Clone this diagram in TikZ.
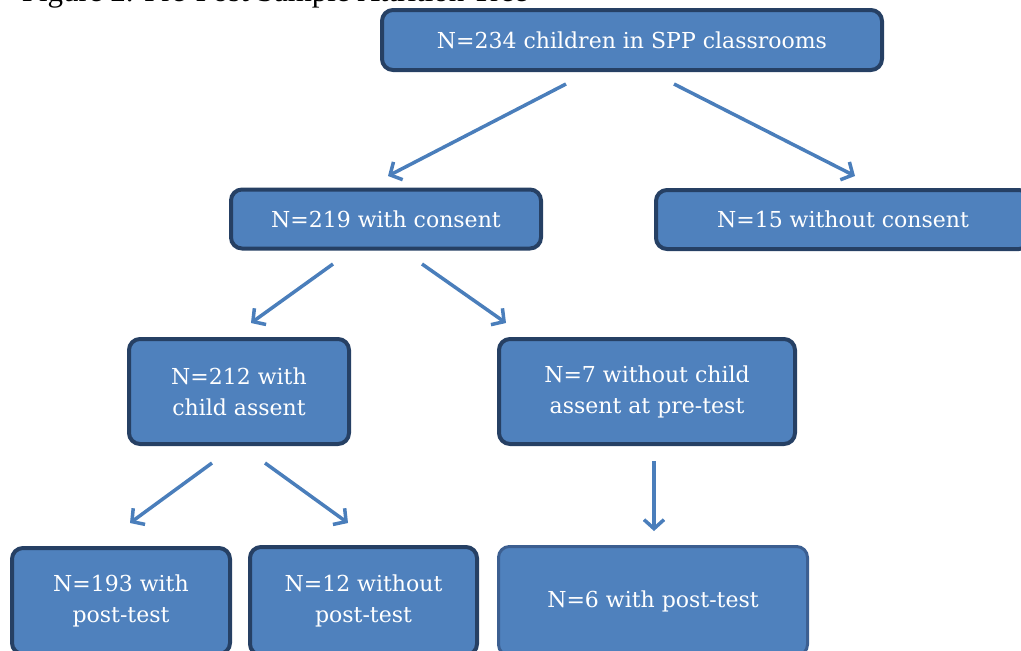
\documentclass[tikz,border=0pt]{standalone}
\usepackage{fontspec}
\setmainfont{Liberation Serif}
\newfontfamily\boxfont{DejaVu Serif}
\usetikzlibrary{arrows.meta}
\definecolor{boxfill}{RGB}{79,129,189}
\definecolor{boxline}{RGB}{38,64,100}
\definecolor{boxlinelight}{RGB}{60,95,145}
\definecolor{arrowcol}{RGB}{74,126,187}
\tikzset{
  treebox/.style={draw=boxline, line width=4pt, fill=boxfill, rounded corners=11pt,
    text=white, align=center, font=\boxfont\fontsize{22}{31}\selectfont, inner sep=0pt},
  treearrow/.style={draw=arrowcol, line width=3.5pt,
    -{Straight Barb[length=9pt,width=20pt,line width=3.5pt]}}
}
\begin{document}
\begin{tikzpicture}[x=1pt,y=-1pt]
\useasboundingbox (0,0) rectangle (1021,651);
\clip (0,0) rectangle (1021,651);
\node[anchor=base east, font=\fontsize{31}{34}\selectfont, inner sep=0pt] (title) at (528,1.5) {Figure 2. Pre-Post Sample Attrition Tree};
\node[treebox, minimum width=500pt, minimum height=60pt] (n234) at (632,40) {N=234 children in SPP classrooms};
\node[treebox, minimum width=310pt, minimum height=59pt] (n219) at (386,219) {N=219 with consent};
\node[treebox, minimum width=374pt, minimum height=59pt] (n15) at (843,219.5) {N=15 without consent};
\node[treebox, minimum width=220pt, minimum height=105pt] (n212) at (239,391.5) {N=212 with\\child assent};
\node[treebox, minimum width=296pt, minimum height=105pt] (n7) at (647,391.5) {N=7 without child\\assent at pre-test};
\node[treebox, minimum width=218pt, minimum height=106pt] (n193) at (121,601) {N=193 with\\post-test};
\node[treebox, minimum width=227pt, minimum height=108pt] (n12) at (363.5,601) {N=12 without\\post-test};
\node[treebox, draw=boxlinelight, line width=3pt, minimum width=309pt, minimum height=109pt] (n6) at (653,601) {N=6 with post-test};
\coordinate (a1s) at (566,84); \coordinate (a1e) at (388,176);
\coordinate (a2s) at (674,84); \coordinate (a2e) at (855,176);
\coordinate (a3s) at (333,264); \coordinate (a3e) at (251,323);
\coordinate (a4s) at (422,264); \coordinate (a4e) at (506,323);
\coordinate (a5s) at (212,463); \coordinate (a5e) at (130,523);
\coordinate (a6s) at (265,463); \coordinate (a6e) at (348,523);
\coordinate (a7s) at (654,461); \coordinate (a7e) at (654,531);
\draw[treearrow] (a1s) -- (a1e);
\draw[treearrow] (a2s) -- (a2e);
\draw[treearrow] (a3s) -- (a3e);
\draw[treearrow] (a4s) -- (a4e);
\draw[treearrow] (a5s) -- (a5e);
\draw[treearrow] (a6s) -- (a6e);
\draw[treearrow] (a7s) -- (a7e);
\end{tikzpicture}
\end{document}
